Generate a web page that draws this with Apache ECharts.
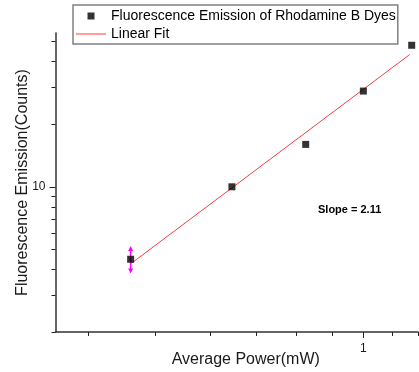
<!DOCTYPE html>
<html>
<head>
<meta charset="utf-8">
<script src="https://cdn.jsdelivr.net/npm/echarts@6/dist/echarts.min.js"></script>
<style>
  html, body { margin: 0; padding: 0; background: #fff; }
  #chart { width: 419px; height: 372px; }
</style>
</head>
<body>
<div id="chart"></div>
<script>
'use strict';

// ---- data (log-log) ----
const power = [0.46, 0.645, 0.825, 1.0, 1.175];          // mW
const emission = [4.48, 10.0, 16.0, 28.9, 48.0];         // counts
const fitPower = [0.461, 1.167];
const fitEmission = [4.28, 43.3];
const errPower = [0.46, 0.46];
const errEmission = [3.93, 5.05];
const xMajor = [1];
const xMinor = [0.4, 0.5, 0.6, 0.7, 0.8, 0.9, 1.1, 1.2];
const yMajor = [10];
const yMinor = [2, 3, 4, 5, 6, 7, 8, 9, 20, 30, 40, 50];

// ---- style ----
const C = { ink: '#1a1a1a', axis: '#333', tick: '#222', fit: '#ff3b3b', err: '#ff00ff', frame: '#808080' };
const FONT = 'Liberation Sans, Arial, sans-serif';
const X_RANGE = [0.358, 1.2];
const Y_RANGE = [2, 55];

const pair = (xs, ys) => xs.map((x, i) => [x, ys[i]]);
const axisLine = { show: true, lineStyle: { color: C.axis, width: 1.5 } };
const tickStyle = { color: C.tick, width: 1 };

const chart = echarts.init(document.getElementById('chart'));
chart.setOption({
  animation: false,
  textStyle: { fontFamily: FONT },
  grid: { left: 55.5, right: 1, top: 33, bottom: 40, containLabel: false, outerBoundsMode: 'none' },
  legend: {
    data: [
      { name: 'Fluorescence Emission of Rhodamine B Dyes', icon: 'path://M0,0h1v1h-1z' },
      { name: 'Linear Fit', icon: 'path://M0,0h30v1h-30z' },
    ],
    orient: 'vertical', left: 73, top: 5,
    padding: [4, 2, 3, 3], itemGap: 4, itemWidth: 30, itemHeight: 7,
    borderColor: C.frame, borderWidth: 1.5, borderRadius: 0,
    textStyle: { fontFamily: FONT, fontSize: 14, color: '#000' },
  },
  xAxis: [
    { type: 'log', gridIndex: 0, position: 'bottom', min: X_RANGE[0], max: X_RANGE[1],
      name: 'Average Power(mW)', nameLocation: 'middle', nameGap: 20, nameMoveOverlap: false,
      nameTextStyle: { fontFamily: FONT, fontSize: 16, color: C.ink, padding: [0, 0, 0, 18] },
      axisLine, splitLine: { show: false }, minorTick: { show: false },
      axisTick: { show: true, inside: false, length: 6, lineStyle: tickStyle, customValues: xMajor },
      axisLabel: { show: true, margin: 11, fontSize: 12, color: C.ink, customValues: xMajor } },
    { type: 'log', gridIndex: 0, position: 'bottom', offset: 0, min: X_RANGE[0], max: X_RANGE[1],
      axisLine: { show: false }, splitLine: { show: false },
      axisTick: { show: true, inside: false, length: 4, lineStyle: tickStyle, customValues: xMinor },
      axisLabel: { show: false } },
  ],
  yAxis: [
    { type: 'log', gridIndex: 0, position: 'left', min: Y_RANGE[0], max: Y_RANGE[1],
      name: 'Fluorescence Emission(Counts)', nameLocation: 'middle', nameGap: 25, nameMoveOverlap: false,
      nameTextStyle: { fontFamily: FONT, fontSize: 16, color: C.ink },
      axisLine, splitLine: { show: false }, minorTick: { show: false },
      axisTick: { show: true, inside: false, length: 6, lineStyle: tickStyle, customValues: yMajor },
      axisLabel: { show: true, margin: 10, fontSize: 12, color: C.ink, customValues: yMajor } },
    { type: 'log', gridIndex: 0, position: 'left', offset: 0, min: Y_RANGE[0], max: Y_RANGE[1],
      axisLine: { show: false }, splitLine: { show: false },
      axisTick: { show: true, inside: false, length: 4, lineStyle: tickStyle, customValues: yMinor },
      axisLabel: { show: false } },
  ],
  series: [
    { name: 'err', type: 'line', xAxisIndex: 0, yAxisIndex: 0, silent: true,
      data: [
        { value: [errPower[0], errEmission[0]], symbol: 'triangle', symbolRotate: 180 },
        { value: [errPower[1], errEmission[1]], symbol: 'triangle' },
      ],
      symbolSize: [5, 5], showSymbol: true, showAllSymbol: true,
      lineStyle: { color: C.err, width: 1.5 }, itemStyle: { color: C.err } },
    { name: 'Linear Fit', type: 'line', xAxisIndex: 0, yAxisIndex: 0,
      data: pair(fitPower, fitEmission), symbol: 'none',
      lineStyle: { color: C.fit, width: 1 }, itemStyle: { color: C.fit } },
    { name: 'Fluorescence Emission of Rhodamine B Dyes', type: 'scatter', xAxisIndex: 0, yAxisIndex: 0,
      data: pair(power, emission), symbol: 'rect', symbolSize: 7,
      itemStyle: { color: '#000' }, z: 5 },
  ],
  graphic: [
    { type: 'text', left: 318, top: 204,
      style: { text: 'Slope = 2.11', font: 'bold 11px ' + FONT, fill: '#000' } },
  ],
});
</script>
</body>
</html>
